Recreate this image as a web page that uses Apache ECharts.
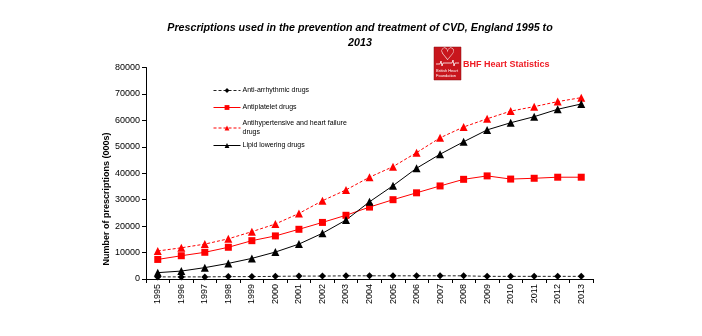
<!DOCTYPE html>
<html><head><meta charset="utf-8">
<script src="https://cdn.jsdelivr.net/npm/echarts@6/dist/echarts.min.js"></script>
<style>html,body{margin:0;padding:0;background:#fff}#c{width:702px;height:336px}</style>
</head><body><div id="c"></div>
<script>
var years = ['1995','1996','1997','1998','1999','2000','2001','2002','2003','2004','2005','2006','2007','2008','2009','2010','2011','2012','2013'];
var antiArrhythmic = [800,800,800,900,900,1000,1100,1100,1200,1200,1200,1200,1200,1200,1000,1000,1000,1000,1000];
var antiplatelet = [7400,8800,10100,12000,14500,16300,18800,21400,24100,27200,30000,32600,35200,37700,39000,37800,38100,38500,38500];
var antihypertensive = [10600,11800,13200,15200,17900,20800,24800,29600,33700,38500,42500,47800,53400,57500,60600,63500,65200,67100,68600];
var lipidLowering = [2400,3000,4300,5900,7800,10200,13200,17300,22300,29200,35300,41900,47200,51900,56400,59100,61400,64200,66200];
var yTicks = [0,10000,20000,30000,40000,50000,60000,70000,80000];

var chart = echarts.init(document.getElementById('c'), null, {renderer:'canvas'});
var F = 'Liberation Sans, Arial, sans-serif';
function leg(name, top){
  return {show:true, data:[name], left:213, top:top, orient:'vertical', itemWidth:27, itemHeight:6, itemGap:0, padding:0,
    lineStyle:{width:1}, textStyle:{fontFamily:F, fontSize:7, color:'#000', padding:[0,0,0,-3], lineHeight:9}, selectedMode:false};
}
chart.setOption({
  animation:false,
  title:{text:'Prescriptions used in the prevention and treatment of CVD, England 1995 to\n2013', left:355, top:16, textAlign:'center',
    textStyle:{fontFamily:F, fontSize:10.7, fontWeight:'bold', fontStyle:'italic', color:'#000', lineHeight:15}},
  legend:[leg('Anti-arrhythmic drugs',86), leg('Antiplatelet drugs',103), leg('Antihypertensive and heart failure\ndrugs',119), leg('Lipid lowering drugs',141)],
  grid:{left:146, right:109, top:67.5, bottom:57, containLabel:false},
  xAxis:{type:'category', data:years, boundaryGap:true,
    axisLine:{lineStyle:{color:'#000', width:1}}, axisTick:{show:true, length:4, lineStyle:{color:'#000'}},
    axisLabel:{rotate:90, fontFamily:F, fontSize:9, color:'#000', margin:5, interval:0}},
  yAxis:{type:'value', min:yTicks[0], max:yTicks[yTicks.length-1], interval:10000,
    axisLine:{show:true, lineStyle:{color:'#000', width:1}}, axisTick:{show:true, length:4, lineStyle:{color:'#000'}},
    splitLine:{show:false}, axisLabel:{fontFamily:F, fontSize:9, color:'#000', margin:6, formatter:function(v){return String(v);}}},
  graphic:[
    {type:'text', x:107, y:199, rotation:Math.PI/2, style:{text:'Number of prescriptions (000s)', fontFamily:F, fontSize:9, fontWeight:'bold', fill:'#000', textAlign:'center', textVerticalAlign:'middle'}},
    {type:'rect', shape:{x:434, y:47, width:27, height:33}, style:{fill:'#c8161d', stroke:'#8a0d12', lineWidth:0.5}},
    {type:'text', x:447.5, y:56, style:{text:'\u2661', fontFamily:'DejaVu Sans', fontSize:17, fill:'#fff', textAlign:'center', textVerticalAlign:'middle'}},
    {type:'polyline', shape:{points:[[436,64],[440,64],[441,61],[442,66],[443,63],[452,63],[453,60],[454,66],[455,63],[459,63]]}, style:{stroke:'#fff', lineWidth:0.8, fill:'none'}},
    {type:'text', x:436, y:68, style:{text:'British Heart\nFoundation', fontFamily:F, fontSize:4, fill:'#fff', lineHeight:5}},
    {type:'text', x:463, y:60, style:{text:'BHF Heart Statistics', fontFamily:F, fontSize:9, fontWeight:'bold', fill:'#ee1c24'}}
  ],
  series:[
    {name:'Anti-arrhythmic drugs', type:'line', data:antiArrhythmic, symbol:'diamond', symbolSize:7,
      lineStyle:{color:'#222', width:1, type:[3,2]}, itemStyle:{color:'#000'}},
    {name:'Antiplatelet drugs', type:'line', data:antiplatelet, symbol:'rect', symbolSize:7,
      lineStyle:{color:'#ff0000', width:1}, itemStyle:{color:'#ff0000'}},
    {name:'Antihypertensive and heart failure\ndrugs', type:'line', data:antihypertensive, symbol:'triangle', symbolSize:8,
      lineStyle:{color:'#ff0000', width:1, type:[3,2]}, itemStyle:{color:'#ff0000'}},
    {name:'Lipid lowering drugs', type:'line', data:lipidLowering, symbol:'triangle', symbolSize:8,
      lineStyle:{color:'#000', width:1}, itemStyle:{color:'#000'}}
  ]
});
</script></body></html>
